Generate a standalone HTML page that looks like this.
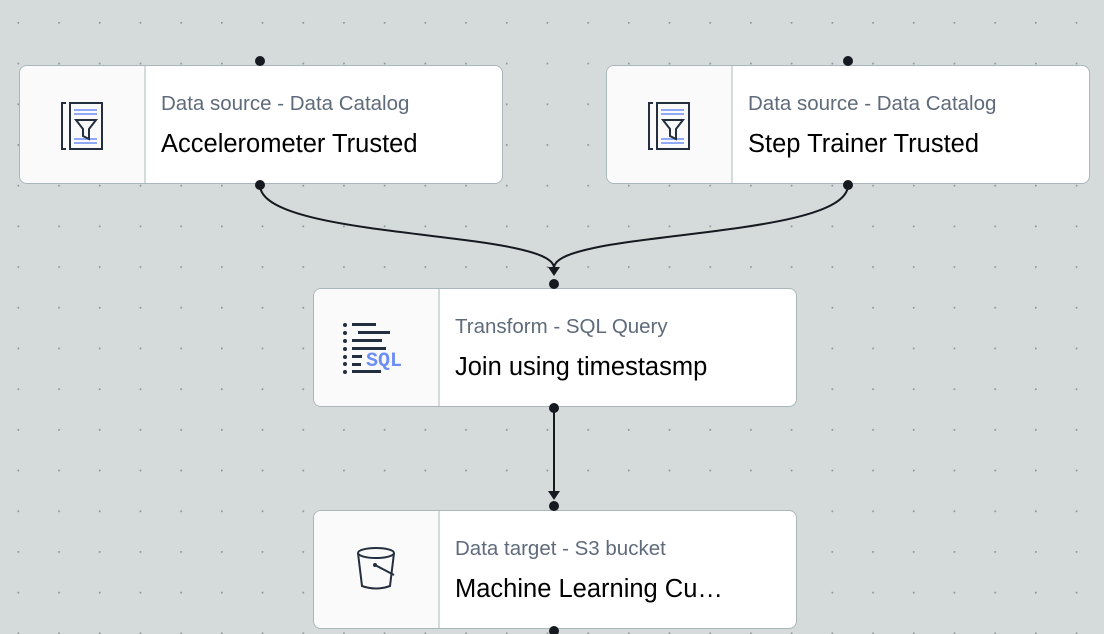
<!DOCTYPE html>
<html><head><style>
body{margin:0;width:1104px;height:634px;overflow:hidden;background:#d5dbdb;font-family:"Liberation Sans",sans-serif;position:relative}
.n{position:absolute;width:484px;height:119px;background:#fff;border:1.5px solid #aab7b8;border-radius:8px;box-sizing:border-box;overflow:hidden}
.ic{position:absolute;left:0;top:0;width:124px;height:100%;background:#fafafa;border-right:2px solid #d5dbdb}
.s{position:absolute;left:141px;top:26px;font-size:20.5px;color:#5f6b7a}
.t{position:absolute;left:141px;top:64px;font-size:25.5px;color:#000}
svg.ico{position:absolute;left:0;top:0}
</style></head><body>
<svg width="1104" height="634" style="position:absolute;left:0;top:0">
<defs><pattern id="g" x="17.5" y="22" width="40.7" height="40.7" patternUnits="userSpaceOnUse"><circle cx="0.8" cy="0.8" r="1" fill="#8c9696"/></pattern></defs>
<rect width="1104" height="634" fill="url(#g)"/>
<path d="M260 185 C260 240 554 230 554 268 M848 185 C848 240 554 230 554 268" stroke="#16191f" stroke-width="2" fill="none"/>
<path d="M548 267 L560 267 L554 276Z" fill="#16191f"/>
<path d="M554 408 L554 492" stroke="#16191f" stroke-width="2"/>
<path d="M548 491 L560 491 L554 500Z" fill="#16191f"/>
</svg>
<div class="n" style="left:19px;top:65px"><div class="ic"><svg class="ico" width="124" height="119"><path d="M46 37 h-4 v46 h4" stroke="#232f3e" stroke-width="2" fill="none"/><rect x="50" y="37" width="32" height="46" fill="none" stroke="#232f3e" stroke-width="2"/><path d="M54 44h23M54 48h23M54 73h23M54 77h23" stroke="#6d8ef5" stroke-width="1.5"/><path d="M56 54 h20 l-7 9 v10 l-6-3 v-7z" fill="none" stroke="#232f3e" stroke-width="2"/></svg></div><div class="s">Data source - Data Catalog</div><div class="t">Accelerometer Trusted</div></div>
<div class="n" style="left:606px;top:65px"><div class="ic"><svg class="ico" width="124" height="119"><path d="M46 37 h-4 v46 h4" stroke="#232f3e" stroke-width="2" fill="none"/><rect x="50" y="37" width="32" height="46" fill="none" stroke="#232f3e" stroke-width="2"/><path d="M54 44h23M54 48h23M54 73h23M54 77h23" stroke="#6d8ef5" stroke-width="1.5"/><path d="M56 54 h20 l-7 9 v10 l-6-3 v-7z" fill="none" stroke="#232f3e" stroke-width="2"/></svg></div><div class="s">Data source - Data Catalog</div><div class="t">Step Trainer Trusted</div></div>
<div class="n" style="left:313px;top:288px"><div class="ic"><svg class="ico" width="124" height="119"><g fill="#232f3e"><circle cx="31" cy="36" r="2"/><circle cx="31" cy="44" r="2"/><circle cx="31" cy="52" r="2"/><circle cx="31" cy="60" r="2"/><circle cx="31" cy="68" r="2"/><circle cx="31" cy="75" r="2"/><circle cx="31" cy="83" r="2"/><rect x="38" y="34" width="24" height="3"/><rect x="44" y="42" width="32" height="3"/><rect x="38" y="50" width="30" height="3"/><rect x="38" y="58" width="34" height="3"/><rect x="38" y="66" width="10" height="3"/><rect x="38" y="74" width="9" height="3"/><rect x="38" y="81" width="29" height="3"/></g><text x="52" y="77" font-family="Liberation Mono,monospace" font-weight="bold" font-size="20" fill="#6d8ef5">SQL</text></svg></div><div class="s">Transform - SQL Query</div><div class="t">Join using timestasmp</div></div>
<div class="n" style="left:313px;top:510px"><div class="ic"><svg class="ico" width="124" height="119"><ellipse cx="62" cy="42" rx="18" ry="5" fill="none" stroke="#232f3e" stroke-width="2"/><path d="M44 42 l4 33 q14 5 28 0 l4-33" fill="none" stroke="#232f3e" stroke-width="2"/><path d="M61 54 l19 10" stroke="#232f3e" stroke-width="2"/><circle cx="61" cy="54" r="2" fill="#232f3e"/></svg></div><div class="s">Data target - S3 bucket</div><div class="t">Machine Learning Cu…</div></div>
<svg width="1104" height="634" style="position:absolute;left:0;top:0">
<g fill="#16191f"><circle cx="260" cy="61" r="5"/><circle cx="260" cy="185" r="5"/><circle cx="848" cy="61" r="5"/><circle cx="848" cy="185" r="5"/><circle cx="554" cy="284" r="5"/><circle cx="554" cy="408" r="5"/><circle cx="554" cy="506" r="5"/><circle cx="554" cy="631" r="5"/></g>
</svg>
</body></html>
